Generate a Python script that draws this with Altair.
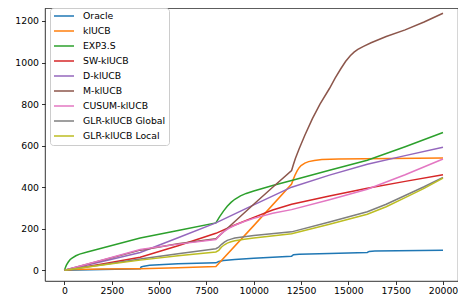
import altair as alt
import pandas as pd

names = ["Oracle", "klUCB", "EXP3.S", "SW-klUCB", "D-klUCB", "M-klUCB",
         "CUSUM-klUCB", "GLR-klUCB Global", "GLR-klUCB Local"]
colors = ["#1f77b4", "#ff7f0e", "#2ca02c", "#d62728", "#9467bd", "#8c564b",
          "#e377c2", "#7f7f7f", "#bcbd22"]

oracle_t = [0, 2000, 4000, 4050, 4200, 4500, 5000, 6000, 8000, 8150, 8400, 9000, 10000, 12000, 12100, 12400,
            14000, 16000, 16100, 16400, 20000]
oracle_v = [0, 4, 7, 16, 20, 24, 27, 31, 36, 42, 47, 52, 58, 68, 75, 77,
            81, 86, 91, 93, 96]

klucb_t = [0, 500, 2000, 4000, 6000, 8000, 10000, 12000, 12100, 12200, 12300, 12400, 12500, 12700, 12900,
           13200, 13600, 14500, 20000]
klucb_v = [0, 4, 6, 8, 12, 18, 215, 415, 440, 462, 480, 494, 504, 516, 523,
           529, 533, 536, 540]

exp3_t = [0, 50, 100, 200, 300, 400, 600, 800, 1200, 2000, 4000, 6000, 8000, 8200, 8400, 8600, 8800, 9000,
          9300, 9600, 10000, 10500, 11000, 12000, 14000, 16000, 18000, 20000]
exp3_v = [0, 14, 25, 40, 52, 59, 70, 78, 88, 107, 155, 192, 228, 258, 285, 308, 327, 342,
          358, 370, 382, 395, 408, 432, 482, 530, 595, 663]

sw_t = [0, 2000, 4000, 6000, 8000, 9000, 10000, 11000, 12000, 14000, 16000, 18000, 20000]
sw_v = [0, 30, 63, 118, 178, 218, 255, 290, 318, 358, 395, 428, 460]

d_t = [0, 2000, 4000, 6000, 8000, 10000, 12000, 14000, 16000, 18000, 20000]
d_v = [0, 42, 86, 157, 228, 315, 400, 458, 510, 552, 592]

m_t = [0, 2000, 4000, 6000, 8000, 9000, 10000, 11000, 12000, 12100, 12200, 12400, 12700, 13100, 13500, 14000,
       14300, 14600, 14850, 15100, 15300, 15500, 15800, 16200, 17000, 18000, 19000, 20000]
m_v = [0, 48, 97, 128, 152, 235, 318, 400, 480, 510, 538, 585, 650, 730, 800, 875,
       925, 970, 1005, 1033, 1050, 1063, 1078, 1095, 1125, 1157, 1195, 1237]

cusum_t = [0, 2000, 4000, 6000, 8000, 8200, 8400, 8700, 9000, 9500, 10000, 11000, 12000, 14000, 16000, 18000, 20000]
cusum_v = [0, 50, 100, 126, 148, 168, 185, 203, 217, 235, 250, 275, 292, 340, 390, 460, 536]

glrg_t = [0, 2000, 4000, 6000, 8000, 8150, 8300, 8450, 8600, 8800, 9000, 9500, 10000, 12000, 14000, 16000,
          17000, 18000, 19000, 20000]
glrg_v = [0, 27, 54, 80, 104, 112, 125, 136, 144, 150, 155, 161, 167, 185, 232, 282,
          318, 360, 402, 447]

glrl_t = [0, 2000, 4000, 6000, 8000, 8150, 8300, 8450, 8600, 8800, 9000, 9500, 10000, 12000, 14000, 16000,
          17000, 18000, 19000, 20000]
glrl_v = [0, 25, 49, 70, 88, 96, 112, 123, 131, 137, 142, 149, 155, 176, 222, 270,
          306, 350, 394, 444]

series = [
    (names[0], oracle_t, oracle_v),
    (names[1], klucb_t, klucb_v),
    (names[2], exp3_t, exp3_v),
    (names[3], sw_t, sw_v),
    (names[4], d_t, d_v),
    (names[5], m_t, m_v),
    (names[6], cusum_t, cusum_v),
    (names[7], glrg_t, glrg_v),
    (names[8], glrl_t, glrl_v),
]

rows = []
for name, ts, vs in series:
    for t, v in zip(ts, vs):
        rows.append({"series": name, "t": t, "regret": v})
df = pd.DataFrame(rows)

x_ticks = [0, 2500, 5000, 7500, 10000, 12500, 15000, 17500, 20000]
y_ticks = [0, 200, 400, 600, 800, 1000, 1200]

FONT = "DejaVu Sans"

chart = alt.Chart(df).mark_line(strokeWidth=1.5, clip=True).encode(
    x=alt.X("t:Q",
            scale=alt.Scale(domain=[-1030, 20793], nice=False, zero=False),
            axis=alt.Axis(values=x_ticks, format="d", title=None, labelPadding=1.5)),
    y=alt.Y("regret:Q",
            scale=alt.Scale(domain=[-51.5, 1262.5], nice=False, zero=False),
            axis=alt.Axis(values=y_ticks, format="d", title=None, labelPadding=3)),
    color=alt.Color("series:N",
                    scale=alt.Scale(domain=names, range=colors),
                    sort=names,
                    legend=alt.Legend(title=None, orient="none", legendX=5, legendY=0,
                                      symbolType="stroke", symbolSize=400,
                                      symbolStrokeWidth=1.5, clipHeight=10,
                                      rowPadding=4, labelOffset=8, padding=3,
                                      labelFont=FONT, labelFontSize=9.3,
                                      labelColor="black", labelLimit=300,
                                      fillColor="white", strokeColor="#cccccc",
                                      cornerRadius=3)),
).properties(
    width=413, height=273,
    autosize=alt.AutoSizeParams(type="none"),
    padding={"left": 37, "top": 0, "right": 0, "bottom": 16},
).configure_view(
    stroke="black", strokeWidth=0.8
).configure_axis(
    grid=False, domain=False, ticks=True, tickColor="black", tickSize=3.5,
    tickWidth=0.8, labelFont=FONT, labelFontSize=9.3, labelColor="black"
)

chart.save("out.html", embed_options={"renderer": "svg", "actions": False})
